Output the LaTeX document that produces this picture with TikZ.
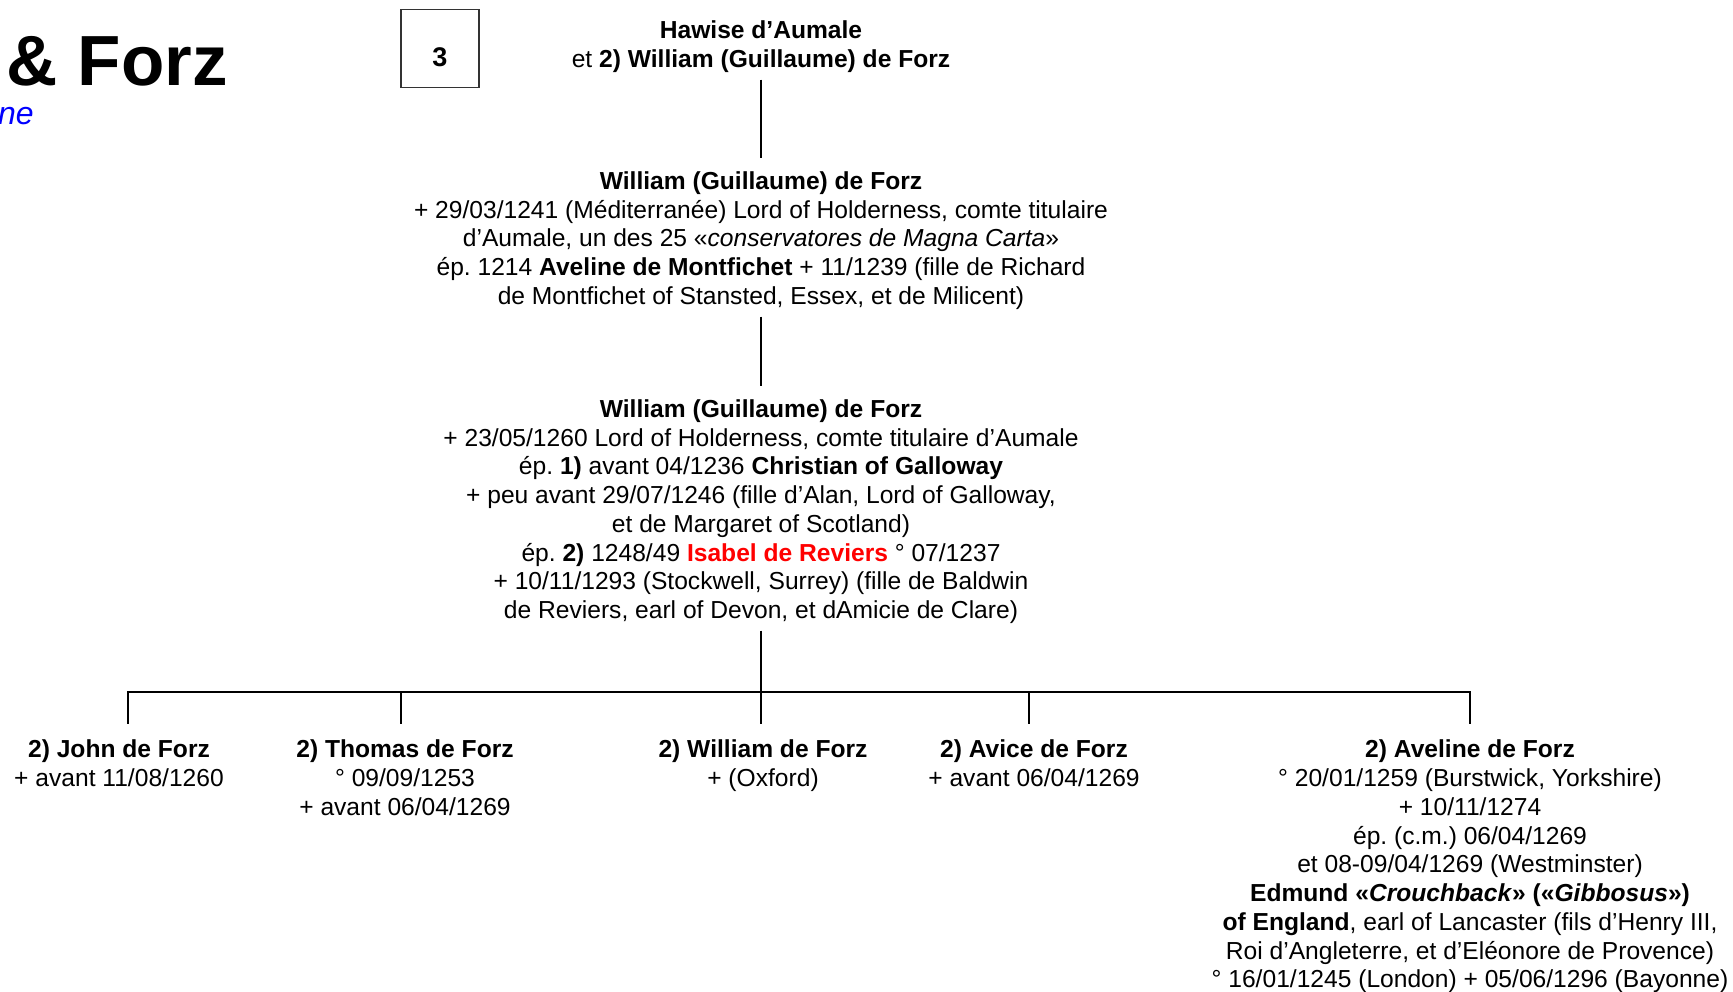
\documentclass[tikz,border=0pt]{standalone}
\usepackage{fontspec}
\setmainfont{Liberation Sans}
\usetikzlibrary{positioning}
\frenchspacing

\begin{document}
\begin{tikzpicture}[x=0.5pt, y=-0.5pt,
    person/.style = {align=center, inner xsep=2pt, inner ysep=3.3pt,
      font=\fontsize{12.3}{14.37}\selectfont},
    numbox/.style = {draw=black!80, line width=0.6pt, minimum width=39pt,
      minimum height=39pt, font=\fontsize{13.5}{16}\selectfont\bfseries},
    line/.style = {draw, line width=1.4pt}]

  \useasboundingbox (0,0) rectangle (1733,991);

  % heading, cut off at the left edge
  \node[anchor=base east, inner sep=0pt, font=\fontsize{35.5}{42}\selectfont\bfseries] (title) at (228,85) {\& Forz};
  \node[anchor=base east, inner sep=0pt, text=blue, font=\fontsize{16}{19}\selectfont\itshape] (subtitle) at (34,124) {ne};
  \node[numbox] (num) at (440,48.5) {\raisebox{-4.2pt}[\height][\depth]{3}};

  % main line
  \node[person, anchor=north] (hawise) at (761,14)
    {\textbf{Hawise d’Aumale}\\
     et \textbf{2) William (Guillaume) de Forz}};

  \node[person, below=42.5pt of hawise] (w1)
    {\textbf{William (Guillaume) de Forz}\\
     + 29/03/1241 (Méditerranée) Lord of Holderness, comte titulaire\\
     d’Aumale, un des 25 «\textit{conservatores de Magna Carta}»\\
     ép. 1214 \textbf{Aveline de Montfichet} + 11/1239 (fille de Richard\\
     de Montfichet of Stansted, Essex, et de Milicent)};

  \node[person, below=38pt of w1] (w2)
    {\textbf{William (Guillaume) de Forz}\\
     + 23/05/1260 Lord of Holderness, comte titulaire d’Aumale\\
     ép. \textbf{1)} avant 04/1236 \textbf{Christian of Galloway}\\
     + peu avant 29/07/1246 (fille d’Alan, Lord of Galloway,\\
     et de Margaret of Scotland)\\
     ép. \textbf{2)} 1248/49 \textcolor{red}{\textbf{Isabel de Reviers}} ° 07/1237\\
     + 10/11/1293 (Stockwell, Surrey) (fille de Baldwin\\
     de Reviers, earl of Devon, et dAmicie de Clare)};

  % children
  \coordinate (dJohn) at (128,692);
  \coordinate (dThomas) at (401,692);
  \coordinate (dWilliam) at (761,692);
  \coordinate (dAvice) at (1029,692);
  \coordinate (dAveline) at (1470,692);

  \node[person, anchor=north] (john) at (119,733)
    {\textbf{2) John de Forz}\\
     + avant 11/08/1260};
  \node[person, anchor=north] (thomas) at (405,733)
    {\textbf{2) Thomas de Forz}\\
     ° 09/09/1253\\
     + avant 06/04/1269};
  \node[person, anchor=north] (william) at (763,733)
    {\textbf{2) William de Forz}\\
     + (Oxford)};
  \node[person, anchor=north] (avice) at (1034,733)
    {\textbf{2) Avice de Forz}\\
     + avant 06/04/1269};
  \node[person, anchor=north] (aveline) at (1470,733)
    {\textbf{2) Aveline de Forz}\\
     ° 20/01/1259 (Burstwick, Yorkshire)\\
     + 10/11/1274\\
     ép. (c.m.) 06/04/1269\\
     et 08-09/04/1269 (Westminster)\\
     \textbf{Edmund «\textit{Crouchback}» («\textit{Gibbosus}»)}\\
     \textbf{of England}, earl of Lancaster (fils d’Henry III,\\
     Roi d’Angleterre, et d’Eléonore de Provence)\\
     ° 16/01/1245 (London) + 05/06/1296 (Bayonne)};

  \draw[line, shorten >=3.2pt] (hawise) -- (w1);
  \draw[line, shorten >=3.2pt] (w1) -- (w2);
  \draw[line] (w2) -- (dWilliam);
  \draw[line, line cap=rect] (dJohn) -- (dAveline);
  \foreach \d/\k in {dJohn/john, dThomas/thomas, dWilliam/william, dAvice/avice, dAveline/aveline}
    \draw[line, shorten >=4.5pt] (\d) -- (\d |- \k.north);
\end{tikzpicture}
\end{document}
